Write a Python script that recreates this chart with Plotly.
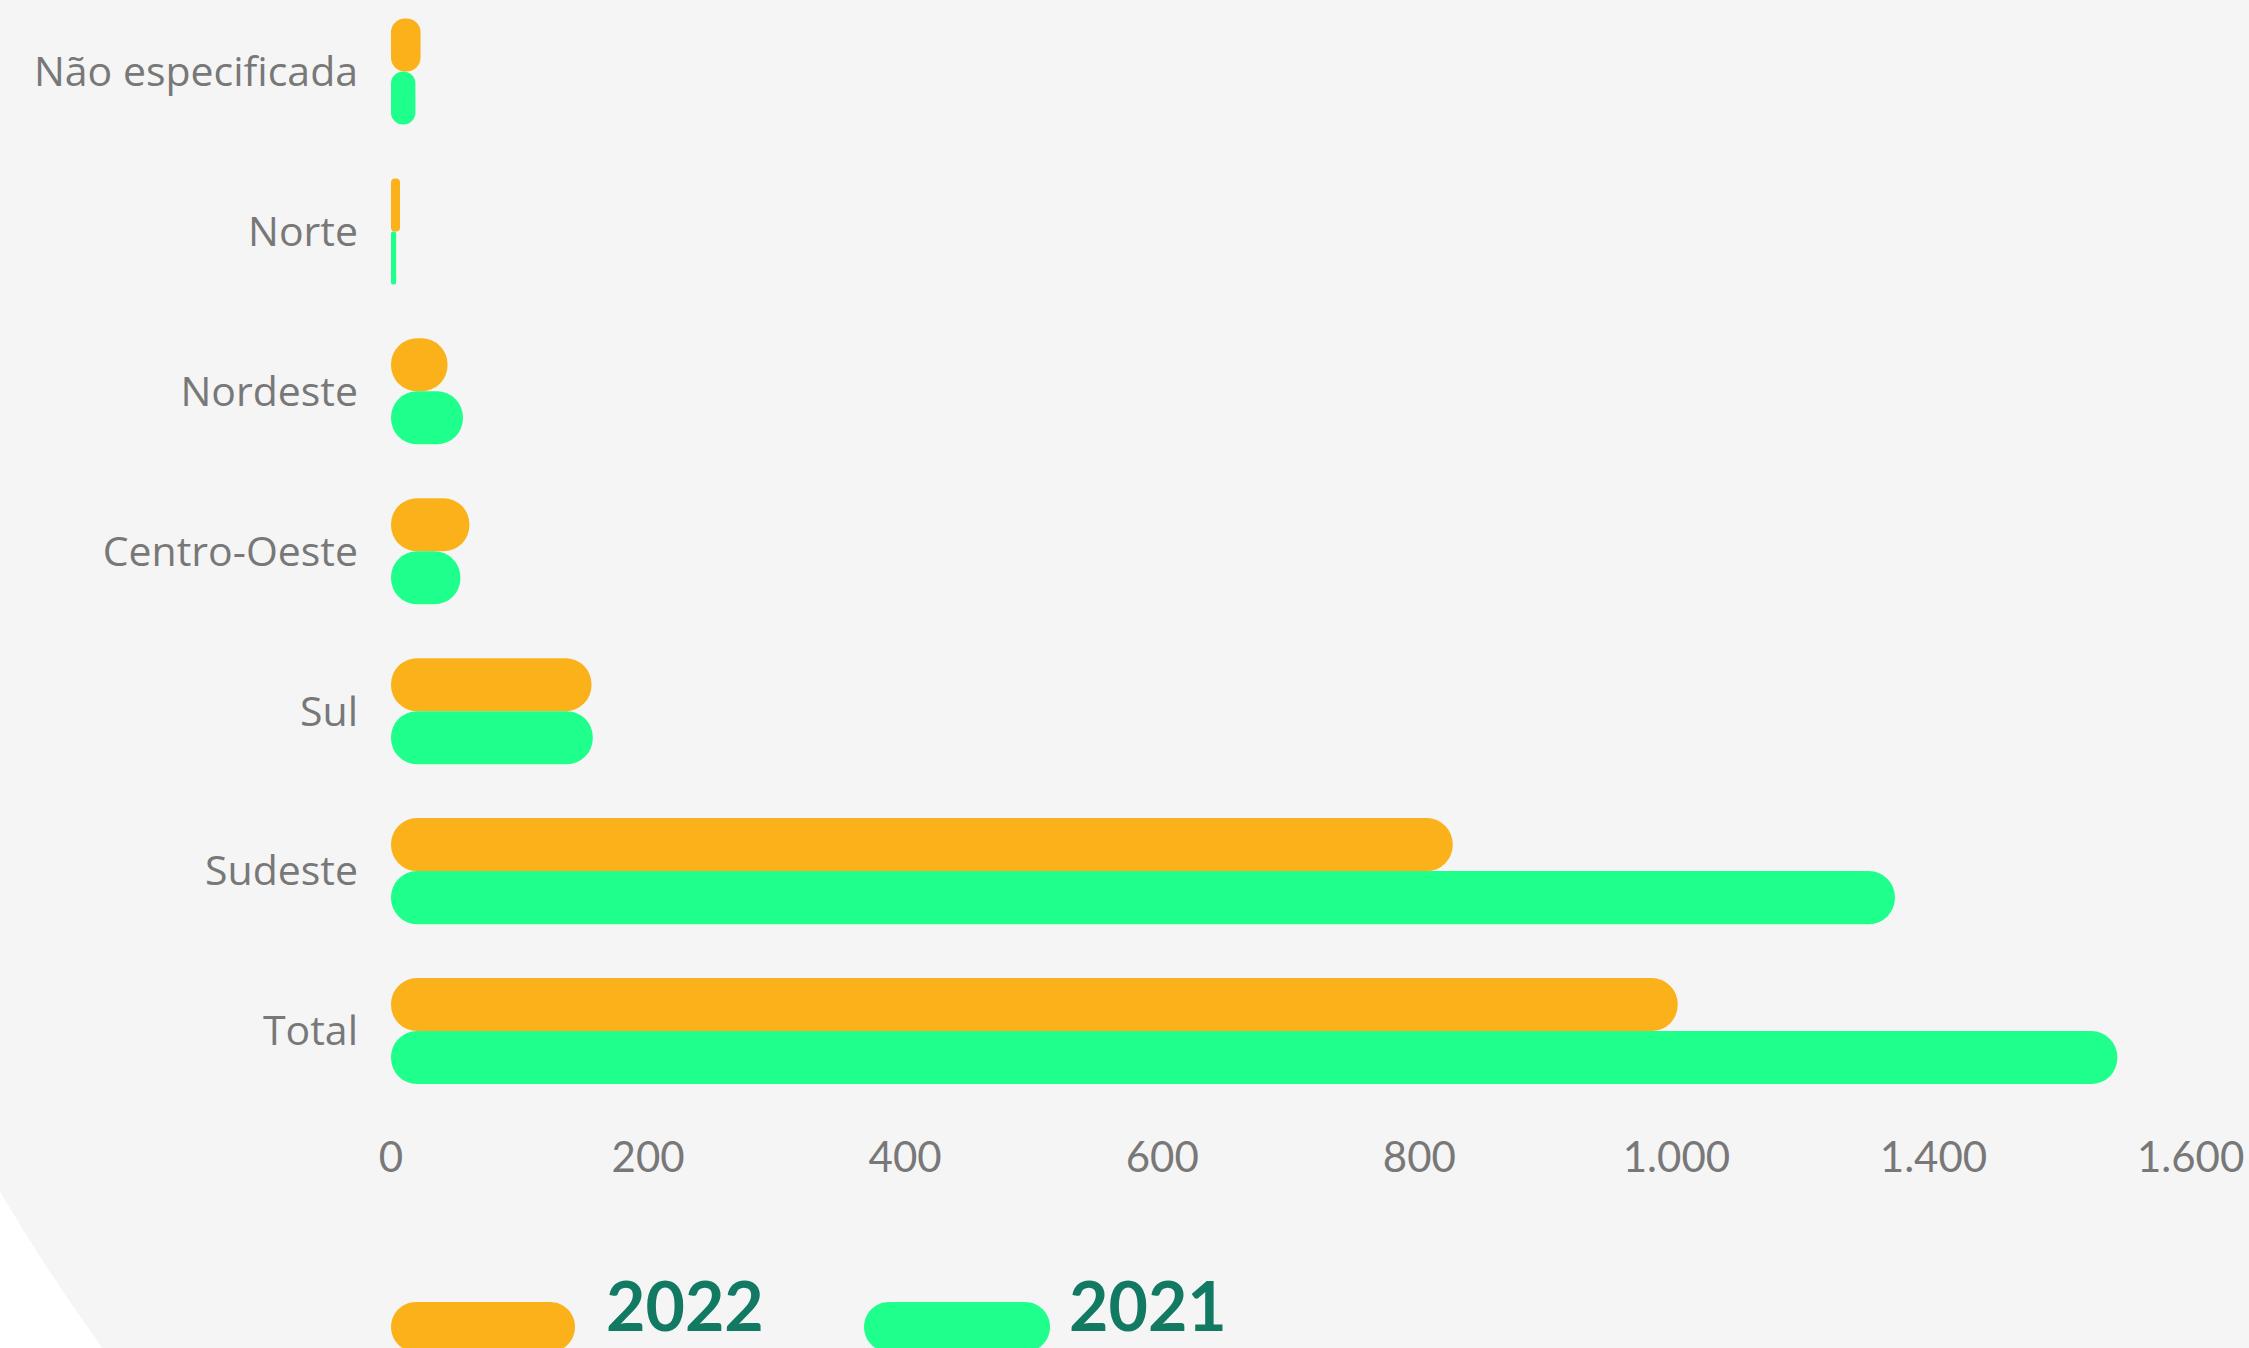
import plotly.graph_objects as go

# Regional breakdown, 2022 vs 2021
categories = ["Não especificada", "Norte", "Nordeste", "Centro-Oeste", "Sul", "Sudeste", "Total"]
values_2022 = [23, 7, 44, 61, 156, 826, 1001]
values_2021 = [19, 4, 56, 54, 157, 1170, 1343]

tick_values = [0, 200, 400, 600, 800, 1000, 1200, 1400]
tick_labels = ["0", "200", "400", "600", "800", "1.000", "1.400", "1.600"]

ORANGE = "#FBB11A"
GREEN = "#1FFF8B"
LABEL_GREY = "#787878"
LEGEND_TEXT = "#127A63"
PANEL = "#F5F5F5"

W, H = 2249, 1348
ML, MR, MT, MB = 391, 7, 0, 237
PW, PH = W - ML - MR, H - MT - MB


def px_to_paper(x, y):
    return (x - ML) / PW, (H - MB - y) / PH


def path_from_px(points_cmds):
    out = []
    for cmd, pts in points_cmds:
        coords = " ".join("%.6f,%.6f" % px_to_paper(x, y) for x, y in pts)
        out.append(cmd + " " + coords if pts else cmd)
    return " ".join(out)


def pill_path(x0, y0, x1, y1):
    r = (y1 - y0) / 2.0
    k = 0.5523 * r
    return path_from_px([
        ("M", [(x0 + r, y0)]),
        ("L", [(x1 - r, y0)]),
        ("C", [(x1 - r + k, y0), (x1, y0 + r - k), (x1, y0 + r)]),
        ("C", [(x1, y0 + r + k), (x1 - r + k, y1), (x1 - r, y1)]),
        ("L", [(x0 + r, y1)]),
        ("C", [(x0 + r - k, y1), (x0, y0 + r + k), (x0, y0 + r)]),
        ("C", [(x0, y0 + r - k), (x0 + r - k, y0), (x0 + r, y0)]),
        ("Z", []),
    ])


fig = go.Figure()

# an explicit zero base gives the bars a rounded cap at both ends
for name, vals, color in [("2022", values_2022, ORANGE), ("2021", values_2021, GREEN)]:
    fig.add_trace(go.Bar(
        y=categories,
        x=vals,
        base=[0] * len(vals),
        orientation="h",
        name=name,
        marker=dict(color=color, line=dict(width=0)),
        showlegend=False,
        hoverinfo="x+name",
    ))

# white corner outside the grey panel
corner = path_from_px([
    ("M", [(-2, 1188)]),
    ("Q", [(47, 1272), (104, 1350)]),
    ("L", [(-2, 1350)]),
    ("Z", []),
])

shapes = [
    dict(type="path", xref="paper", yref="paper", path=corner,
         fillcolor="white", line=dict(width=0), layer="below"),
    dict(type="path", xref="paper", yref="paper", path=pill_path(391, 1302, 575, 1352),
         fillcolor=ORANGE, line=dict(width=0)),
    dict(type="path", xref="paper", yref="paper", path=pill_path(864, 1302, 1050, 1352),
         fillcolor=GREEN, line=dict(width=0)),
]

annotations = []
for text, xpx in [("2022", 604), ("2021", 1067)]:
    ax, ay = px_to_paper(xpx, 1304)
    annotations.append(dict(
        text=text, x=ax, y=ay, xref="paper", yref="paper",
        xanchor="left", yanchor="middle", showarrow=False,
        font=dict(family="Lato", size=68, color=LEGEND_TEXT, weight="bold"),
    ))

fig.update_layout(
    width=W, height=H,
    margin=dict(l=ML, r=MR, t=MT, b=MB, pad=0),
    paper_bgcolor=PANEL,
    plot_bgcolor="rgba(0,0,0,0)",
    barmode="group",
    bargap=0.337,
    bargroupgap=0,
    barcornerradius="50%",
    showlegend=False,
    shapes=shapes,
    annotations=annotations,
    font=dict(family="Lato", color=LABEL_GREY),
    xaxis=dict(
        range=[0, 1440],
        tickmode="array", tickvals=tick_values, ticktext=tick_labels,
        showgrid=False, zeroline=False, showline=False, ticks="",
        tickfont=dict(family="Lato", size=42, color=LABEL_GREY),
        ticklabelstandoff=18,
        automargin=False, fixedrange=True,
    ),
    yaxis=dict(
        categoryorder="array", categoryarray=categories,
        range=[6.5, -0.447],
        showgrid=False, zeroline=False, showline=False, ticks="",
        tickfont=dict(family="Open Sans", size=41, color=LABEL_GREY),
        ticklabelstandoff=32,
        automargin=False, fixedrange=True,
    ),
)

fig.write_html("out.html", config={"displayModeBar": False})
